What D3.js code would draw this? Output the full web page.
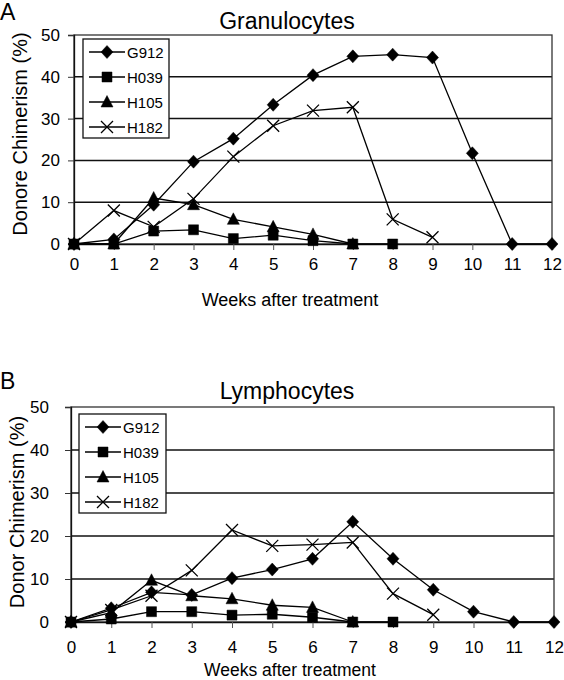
<!DOCTYPE html>
<html><head><meta charset="utf-8">
<script src="https://cdn.jsdelivr.net/npm/d3@7"></script>
<style>body{margin:0;background:#fff}svg{display:block}text{font-family:"Liberation Sans",Arial,sans-serif;fill:#000}</style>
</head><body>
<svg id="c" width="564" height="680"></svg>
<script>
const weeks = [0,1,2,3,4,5,6,7,8,9,10,11,12];
const yTicks = [0,10,20,30,40,50];
const seriesNames = ["G912","H039","H105","H182"];
const seriesSymbols = ["diamond","square","triangle","cross"];

// Panel A: Granulocytes
const granG912 = [0,1.1,9.4,19.7,25.2,33.3,40.4,44.9,45.3,44.6,21.7,0,0];
const granH039 = [0,0,3.1,3.4,1.3,2.1,0.8,0,0];
const granH105 = [0,0,11,9.4,5.9,4.1,2.3,0];
const granH182 = [0,8,4.1,10.8,20.9,28.3,31.9,32.7,5.9,1.6];

// Panel B: Lymphocytes
const lymG912 = [0,3.2,6.9,6.3,10.2,12.2,14.7,23.3,14.7,7.5,2.4,0,0];
const lymH039 = [0,0.7,2.4,2.4,1.6,1.8,1.1,0,0];
const lymH105 = [0,2.2,9.7,6.1,5.4,3.9,3.4,0];
const lymH182 = [0,2.8,6.1,12,21.4,17.7,18,18.5,6.6,1.7];

const svg = d3.select("#c");

function symbolPath(type){
  if(type==="diamond") return "M0,-6.5L6,0L0,6.5L-6,0Z";
  if(type==="square") return "M-5,-5H5V5H-5Z";
  if(type==="triangle") return "M0,-6.5L6,5H-6Z";
  return "M-6,-6L6,6M-6,6L6,-6";
}

function panel(o){
  const g = svg.append("g");
  const x = d3.scaleLinear().domain([0,12]).range([o.x0,o.x1]);
  const y = d3.scaleLinear().domain([0,50]).range([o.y0,o.y1]);
  g.append("text").attr("x",0).attr("y",o.letterY).attr("font-size",23).text(o.letter);
  g.append("text").attr("x",287).attr("y",o.titleY).attr("font-size",23).attr("text-anchor","middle").text(o.title);
  g.selectAll(".grid").data(yTicks.filter(d=>d>0&&d<50)).join("line")
    .attr("x1",o.x0).attr("x2",o.x1).attr("y1",d=>y(d)).attr("y2",d=>y(d))
    .attr("stroke","#111").attr("stroke-width",1.5);
  g.append("rect").attr("x",o.x0).attr("y",o.y1).attr("width",o.x1-o.x0).attr("height",o.y0-o.y1)
    .attr("fill","none").attr("stroke","#333").attr("stroke-width",1.3);
  const ya = d3.axisLeft(y).tickValues(yTicks).tickSize(6).tickPadding(o.yPad);
  const yg = g.append("g").attr("transform",`translate(${o.x0},0)`).call(ya);
  yg.select(".domain").attr("stroke","#111").attr("stroke-width",1.3);
  yg.selectAll(".tick line").attr("stroke","#333");
  yg.selectAll("text").attr("font-size",17).attr("font-family","Liberation Sans, Arial, sans-serif");
  const xa = d3.axisBottom(x).tickValues(weeks).tickSize(6).tickPadding(o.xPad);
  const xg = g.append("g").attr("transform",`translate(0,${o.y0})`).call(xa);
  xg.select(".domain").attr("stroke","#111").attr("stroke-width",1.3);
  xg.selectAll(".tick line").attr("stroke","#555");
  xg.selectAll("text").attr("font-size",17).attr("font-family","Liberation Sans, Arial, sans-serif");
  g.append("text").attr("x",290).attr("y",o.xTitleY).attr("font-size",o.xTitleSize).attr("text-anchor","middle").text("Weeks after treatment");
  g.append("text").attr("transform",`translate(${o.yTitleX},${o.yTitleC}) rotate(-90)`)
    .attr("font-size",20).attr("text-anchor","middle").text(o.yTitle);
  const line = d3.line().x((d,i)=>x(weeks[i])).y(d=>y(d));
  o.data.forEach((vals,k)=>{
    g.append("path").attr("d",line(vals)).attr("fill","none").attr("stroke","#000").attr("stroke-width",1.3);
  });
  o.data.forEach((vals,k)=>{
    const sym = seriesSymbols[k];
    g.selectAll(null).data(vals).join("path")
      .attr("transform",(d,i)=>`translate(${x(weeks[i])},${y(d)})`)
      .attr("d",symbolPath(sym))
      .attr("fill",sym==="cross"?"none":"#000")
      .attr("stroke","#000").attr("stroke-width",sym==="cross"?1.3:0.5);
  });
  const L = o.legend;
  g.append("rect").attr("x",L.x).attr("y",L.y).attr("width",L.w).attr("height",L.h)
    .attr("fill","#fff").attr("stroke","#111").attr("stroke-width",1.3);
  seriesNames.forEach((n,k)=>{
    const cy = L.y + 13 + k*25;
    g.append("line").attr("x1",L.x+6).attr("x2",L.x+42).attr("y1",cy).attr("y2",cy).attr("stroke","#000").attr("stroke-width",1.3);
    g.append("path").attr("transform",`translate(${L.x+24},${cy})`).attr("d",symbolPath(seriesSymbols[k]))
      .attr("fill",seriesSymbols[k]==="cross"?"none":"#000").attr("stroke","#000").attr("stroke-width",seriesSymbols[k]==="cross"?1.3:0.5);
    g.append("text").attr("x",L.x+44).attr("y",cy+5.5).attr("font-size",15).text(n);
  });
}

panel({letter:"A",letterY:20,title:"Granulocytes",titleY:29,
  x0:74,x1:552,y0:244,y1:35,yPad:8,xPad:8,xTitleY:306,xTitleSize:18,yTitleX:27,yTitleC:134,
  yTitle:"Donore Chimerism (%)",
  data:[granG912,granH039,granH105,granH182],
  legend:{x:83,y:39,w:86,h:99}});

panel({letter:"B",letterY:389,title:"Lymphocytes",titleY:399,
  x0:71,x1:554,y0:622,y1:407,yPad:16,xPad:13,xTitleY:676,xTitleSize:17.5,yTitleX:24,yTitleC:512,
  yTitle:"Donor Chimerism (%)",
  data:[lymG912,lymH039,lymH105,lymH182],
  legend:{x:79,y:414,w:87,h:99}});
</script>
</body></html>
